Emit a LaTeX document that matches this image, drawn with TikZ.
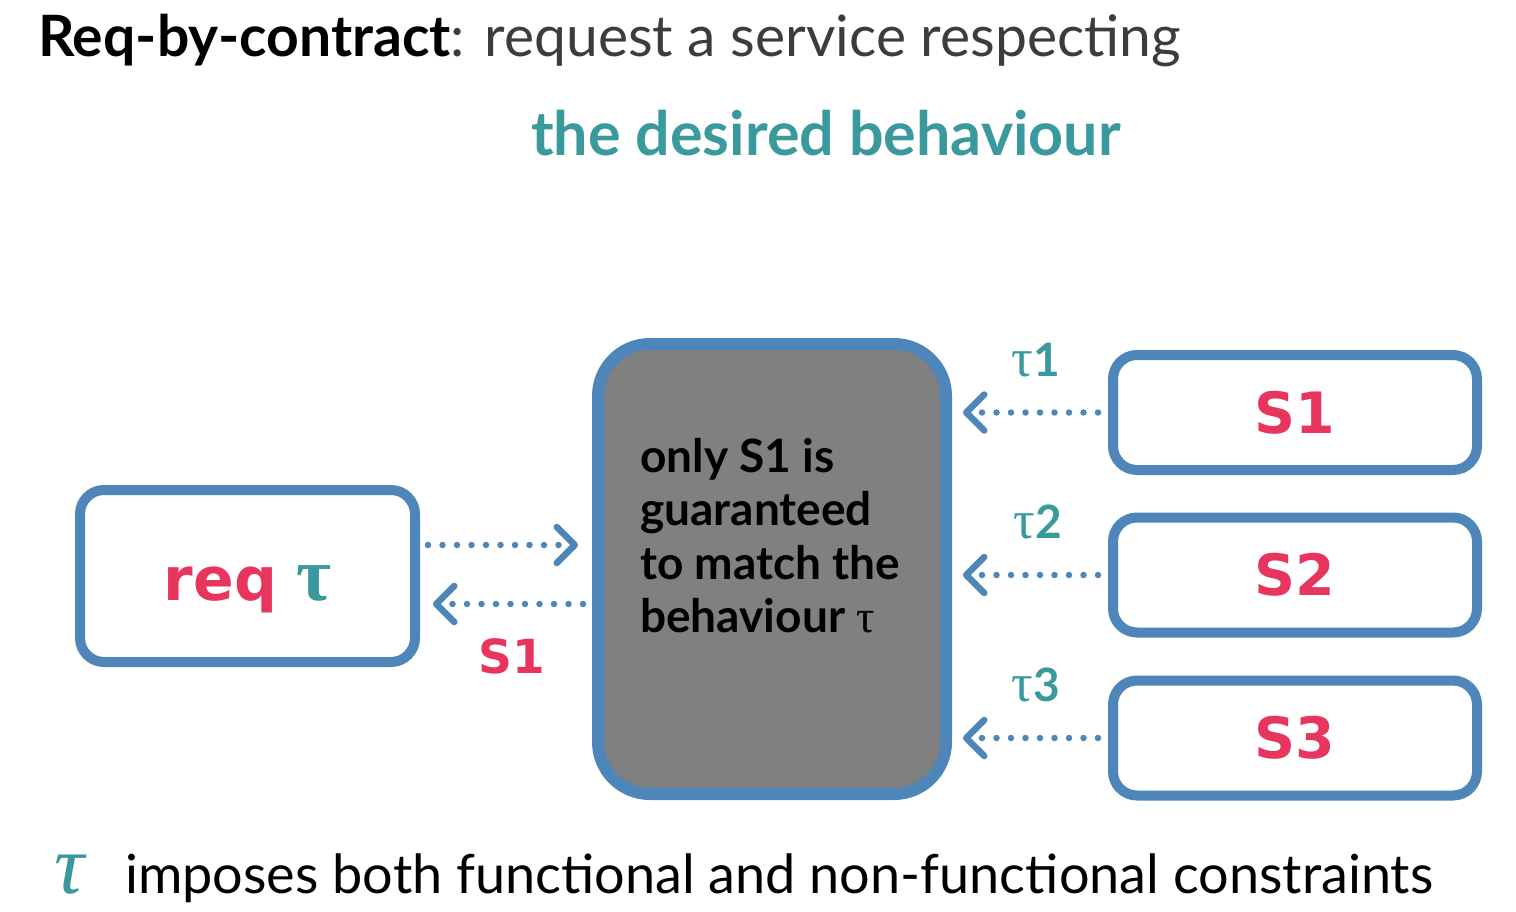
\documentclass[tikz,border=0pt]{standalone}
\usepackage{fontspec}
\setmainfont{Lato}
\newfontfamily\boxfont{DejaVu Sans}
\newfontfamily\taufont{Liberation Serif}
\usetikzlibrary{arrows.meta}
\definecolor{frameblue}{HTML}{4F86B9}
\definecolor{svcred}{HTML}{E8355E}
\definecolor{tealish}{HTML}{3A999C}
\definecolor{midgray}{HTML}{808080}
\definecolor{titlegray}{HTML}{3C3C3C}
\tikzset{
  framebox/.style={draw=frameblue, line width=10pt, rounded corners=24pt, fill=white, inner sep=0pt},
  hubbox/.style={draw=frameblue, line width=12pt, rounded corners=52pt, fill=midgray, inner sep=0pt,
    minimum width=348pt, minimum height=450pt},
  svcbox/.style={framebox, minimum width=364pt, minimum height=115pt,
    font=\boxfont\bfseries\fontsize{57}{60}\selectfont, text=svcred},
  darr/.style={draw=frameblue, line width=6.5pt, line cap=round, dash pattern=on 0pt off 14.5pt,
    -{Straight Barb[length=18pt, width=36pt, round]}},
  taulbl/.style={text=tealish, font=\fontsize{46}{50}\selectfont, inner sep=0pt},
}
\begin{document}
\begin{tikzpicture}[x=1pt, y=-1pt]
  \useasboundingbox[fill=white] (0,0) rectangle (1516,912);

  % heading
  \node[anchor=base west, inner sep=0pt, font=\fontsize{57}{60}\selectfont] (head) at (38,57)
    {\textbf{Req-by-contract}\textcolor{titlegray}{: request a service respecting}};
  \node[anchor=base, inner sep=0pt, text=tealish, font=\bfseries\fontsize{61}{60}\selectfont] (sub) at (826,156)
    {the desired behaviour};

  % requester (text baseline sits 24pt below the box centre)
  \node[framebox, minimum width=335pt, minimum height=172pt] (req) at (247.5,576)
    {\smash{\raisebox{-24pt}{\boxfont\bfseries\fontsize{60}{60}\selectfont\textcolor{svcred}{req}\hspace{0.32em}\textcolor{tealish}{\taufont\fontsize{76}{60}\selectfont τ}}}};

  % broker
  \node[hubbox] (hub) at (772,569) {};
  \node[anchor=north west, inner sep=0pt, align=left, font=\bfseries\fontsize{46}{53.5}\selectfont] (hubtxt) at (640,438)
    {only S1 is\\guaranteed\\to match the\\behaviour {\taufont\mdseries τ}};

  % services
  \node[svcbox] (s1) at (1295,412.5) {S1};
  \node[svcbox] (s2) at (1295,575) {S2};
  \node[svcbox] (s3) at (1295,738) {S3};

  % request / reply
  \draw[darr, shorten <=8pt, shorten >=14pt] ([yshift=31pt]req.east) -- ([yshift=31pt]req.east -| hub.west);
  \draw[darr, shorten <=9pt, shorten >=13pt] ([yshift=-28pt]req.east -| hub.west) -- ([yshift=-28pt]req.east);
  \node[text=svcred, inner sep=0pt, font=\boxfont\bfseries\fontsize{47}{50}\selectfont] (s1lbl) at (512,656) {S1};

  % offered contracts
  \draw[darr, shorten <=10pt, shorten >=11pt] (s1.west) -- (s1.west -| hub.east);
  \draw[darr, shorten <=10pt, shorten >=11pt] (s2.west) -- (s2.west -| hub.east);
  \draw[darr, shorten <=10pt, shorten >=11pt] (s3.west) -- (s3.west -| hub.east);
  \node[taulbl] (t1) at (1036,360) {{\taufont\fontsize{54}{50}\selectfont τ}\textbf{1}};
  \node[taulbl] (t2) at (1038,522) {{\taufont\fontsize{54}{50}\selectfont τ}\textbf{2}};
  \node[taulbl] (t3) at (1036,685) {{\taufont\fontsize{54}{50}\selectfont τ}\textbf{3}};

  % footnote
  \node[anchor=base, inner sep=0pt, text=tealish, font=\taufont\itshape\fontsize{84}{60}\selectfont] (ftau) at (70,893) {τ};
  \node[anchor=base west, inner sep=0pt, font=\fontsize{54}{60}\selectfont] (foot) at (125,893)
    {imposes both functional and non-functional constraints};
\end{tikzpicture}
\end{document}
